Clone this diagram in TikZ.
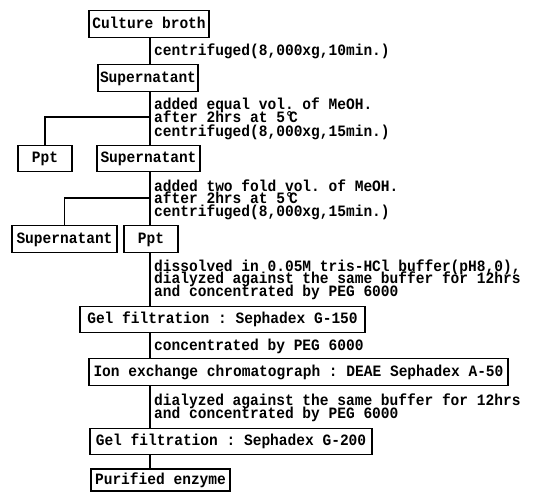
\documentclass[tikz,border=0pt]{standalone}
\usepackage{fontspec}
\setmonofont[FakeStretch=0.92]{Liberation Mono}
\newcommand{\txtfont}{\ttfamily\bfseries\fontsize{15.8}{12.5}\selectfont}
\begin{document}
\begin{tikzpicture}[x=1pt,y=-1pt,
  box/.style={draw, line width=1.1pt, inner sep=0pt, font=\txtfont,
    text height=10.5pt, text depth=2pt, minimum height=26.5pt, anchor=center},
  lbl/.style={inner sep=0pt, anchor=base west, font=\txtfont},
  conn/.style={line width=1.2pt}]
\useasboundingbox (0,0) rectangle (534,492);
% boxes
\node[box, minimum width=120pt] (cb) at (149,24) {Culture broth};
\node[box, minimum width=100pt] (s1) at (148,78) {Supernatant};
\node[box, minimum width=54pt] (p1) at (45,158.5) {Ppt};
\node[box, minimum width=103pt] (s2) at (148.5,158.5) {Supernatant};
\node[box, minimum width=105pt] (s3) at (64.5,239) {Supernatant};
\node[box, minimum width=54pt] (p2) at (151,239) {Ppt};
\node[box, minimum width=285pt] (g1) at (222.5,319.5) {Gel filtration : Sephadex G-150};
\node[box, minimum width=419pt] (ion) at (298.5,372) {Ion exchange chromatograph : DEAE Sephadex A-50};
\node[box, minimum width=282pt] (g2) at (231,441.5) {Gel filtration : Sephadex G-200};
\node[box, minimum width=139pt, minimum height=22pt] (pe) at (160.5,480) {Purified enzyme};
% connectors
\coordinate (mx) at (150,0);
\coordinate (b1) at (150,117);
\coordinate (b2) at (150,198);
\draw[conn] (cb.south -| mx) -- (s1.north -| mx);
\draw[conn] (s1.south -| mx) -- (s2.north -| mx);
\draw[conn] (b1) -| (p1.north);
\draw[conn] (s2.south -| mx) -- (p2.north -| mx);
\draw[conn] (b2) -| (s3.north);
\draw[conn] (p2.south -| mx) -- (g1.north -| mx);
\draw[conn] (g1.south -| mx) -- (ion.north -| mx);
\draw[conn] (ion.south -| mx) -- (g2.north -| mx);
\draw[conn] (g2.south -| mx) -- (pe.north -| mx);
% labels
\node[lbl] (t1) at (154,55.5) {centrifuged(8,000xg,10min.)};
\node[lbl] (t2a) at (154,109) {added equal vol. of MeOH.};
\node[lbl] (t2b) at (154,122.5) {after 2hrs at 5°\kern-0.3em C};
\node[lbl] (t2c) at (154,136) {centrifuged(8,000xg,15min.)};
\node[lbl] (t3a) at (154,191) {added two fold vol. of MeOH.};
\node[lbl] (t3b) at (154,203.5) {after 2hrs at 5°\kern-0.3em C};
\node[lbl] (t3c) at (154,216.5) {centrifuged(8,000xg,15min.)};
\node[lbl] (t4a) at (154,271) {dissolved in 0.05M tris-HCl buffer(pH8,0),};
\node[lbl] (t4b) at (154,283.5) {dialyzed against the same buffer for 12hrs};
\node[lbl] (t4c) at (154,296) {and concentrated by PEG 6000};
\node[lbl] (t5) at (154,350.5) {concentrated by PEG 6000};
\node[lbl] (t6a) at (154,405.5) {dialyzed against the same buffer for 12hrs};
\node[lbl] (t6b) at (154,418.5) {and concentrated by PEG 6000};
\end{tikzpicture}
\end{document}
